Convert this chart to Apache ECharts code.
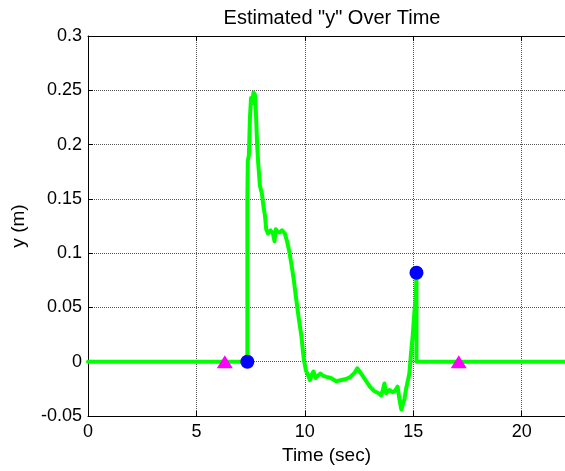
<!DOCTYPE html>
<html>
<head>
<meta charset="utf-8">
<script src="https://cdn.jsdelivr.net/npm/echarts@6/dist/echarts.min.js"></script>
<style>
  html, body { margin: 0; padding: 0; background: #fff; }
  #chart { width: 565px; height: 471px; }
</style>
</head>
<body>
<div id="chart"></div>
<script>
// Estimated y position (m) against time (s)
const estTime = [0, 7.35, 7.35, 7.37, 7.42, 7.47, 7.52, 7.58, 7.63, 7.70, 7.74, 7.80, 7.85, 7.93, 8.02, 8.10, 8.16, 8.22, 8.30, 8.42, 8.53, 8.60, 8.66, 8.73, 8.84, 8.95, 9.08, 9.18, 9.28, 9.38, 9.48, 9.60, 9.72, 9.84, 9.95, 10.05, 10.14, 10.24, 10.32, 10.40, 10.50, 10.60, 10.72, 10.85, 11.0, 11.2, 11.45, 11.65, 11.9, 12.1, 12.3, 12.42, 12.5, 12.6, 12.8, 13.0, 13.2, 13.4, 13.52, 13.6, 13.67, 13.75, 13.9, 14.05, 14.15, 14.28, 14.36, 14.45, 14.52, 14.59, 14.67, 14.74, 14.82, 14.90, 14.98, 15.05, 15.12, 15.15, 15.15, 22];
const estY = [0, 0, 0.15, 0.185, 0.19, 0.225, 0.243, 0.238, 0.248, 0.246, 0.232, 0.2, 0.183, 0.162, 0.155, 0.142, 0.135, 0.122, 0.118, 0.121, 0.118, 0.111, 0.122, 0.12, 0.119, 0.121, 0.118, 0.111, 0.102, 0.09, 0.077, 0.058, 0.04, 0.024, 0.003, -0.008, -0.012, -0.017, -0.012, -0.009, -0.015, -0.013, -0.011, -0.013, -0.014, -0.015, -0.018, -0.017, -0.016, -0.014, -0.01, -0.006, -0.007, -0.011, -0.017, -0.023, -0.027, -0.029, -0.031, -0.026, -0.02, -0.029, -0.026, -0.028, -0.027, -0.023, -0.034, -0.044, -0.043, -0.035, -0.025, -0.026, -0.011, 0.008, 0.025, 0.045, 0.06, 0.082, 0, 0];

// Start / end of the estimation window (blue circles)
const windowTime = [7.35, 15.15];
const windowY = [0, 0.082];

// Event markers on the zero line (magenta triangles)
const eventTime = [6.31, 17.1];
const eventY = [0, 0];

// Axis ranges and ticks
const xMin = 0, xMax = 22, xStep = 5;
const yMin = -0.05, yMax = 0.3, yStep = 0.05;

const pairs = (xs, ys) => xs.map((x, i) => [x, ys[i]]);

const FONT = 'Liberation Sans, Arial, sans-serif';
const gridLine = { show: true, lineStyle: { color: '#555', type: [1, 1], width: 1 } };

const chart = echarts.init(document.getElementById('chart'), null, { renderer: 'canvas' });
chart.setOption({
  animation: false,
  backgroundColor: '#fff',
  title: {
    text: 'Estimated "y" Over Time',
    left: 327,
    textAlign: 'center',
    top: 3,
    textStyle: { fontFamily: FONT, fontSize: 20, fontWeight: 'normal', color: '#000' }
  },
  grid: { left: 88, top: 36, right: -1, bottom: 55, containLabel: false },
  xAxis: [
    {
      type: 'value', min: xMin, max: xMax, interval: xStep,
      name: 'Time (sec)', nameLocation: 'middle', nameGap: 29,
      nameTextStyle: { fontFamily: FONT, fontSize: 19, color: '#000' },
      axisLine: { show: true, onZero: false, lineStyle: { color: '#000', width: 1 } },
      axisTick: { show: true, inside: true, length: 5, lineStyle: { color: '#000' } },
      axisLabel: { fontFamily: FONT, fontSize: 18, color: '#000', margin: 7, showMaxLabel: false },
      splitLine: gridLine
    },
    {
      type: 'value', position: 'top', min: xMin, max: xMax, interval: xStep,
      axisLine: { show: true, onZero: false, lineStyle: { color: '#000', width: 1 } },
      axisTick: { show: true, inside: true, length: 5, lineStyle: { color: '#000' } },
      axisLabel: { show: false },
      splitLine: { show: false }
    }
  ],
  yAxis: {
    type: 'value', min: yMin, max: yMax, interval: yStep,
    name: 'y (m)', nameLocation: 'middle', nameGap: 60,
    nameTextStyle: { fontFamily: FONT, fontSize: 19, color: '#000' },
    axisLine: { show: true, onZero: false, lineStyle: { color: '#000', width: 1 } },
    axisTick: { show: true, inside: true, length: 5, lineStyle: { color: '#000' } },
    axisLabel: { fontFamily: FONT, fontSize: 18, color: '#000', margin: 6 },
    splitLine: gridLine
  },
  series: [
    {
      type: 'line', xAxisIndex: 0,
      data: pairs(estTime, estY),
      showSymbol: false, symbol: 'none',
      lineStyle: { color: '#00ff00', width: 4, join: 'round', cap: 'round' },
      z: 2
    },
    {
      type: 'scatter', xAxisIndex: 0,
      data: pairs(windowTime, windowY),
      symbol: 'circle', symbolSize: 14,
      itemStyle: { color: '#0000ff', opacity: 1 },
      z: 3
    },
    {
      type: 'scatter', xAxisIndex: 0,
      data: pairs(eventTime, eventY),
      symbol: 'triangle', symbolSize: [16, 13],
      itemStyle: { color: '#ff00ff', opacity: 1 },
      z: 3
    }
  ]
});
</script>
</body>
</html>
